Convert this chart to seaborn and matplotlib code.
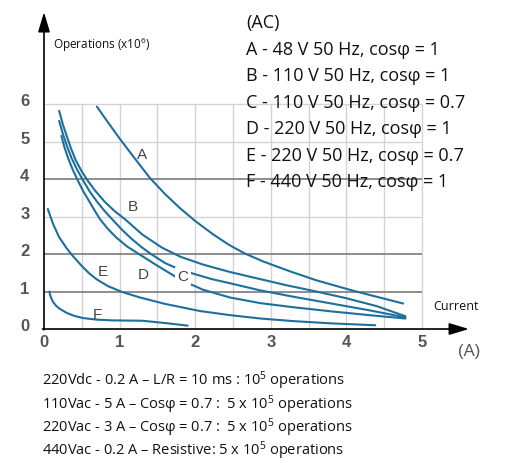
import matplotlib
matplotlib.use("Agg")
import matplotlib.pyplot as plt
import matplotlib.transforms as mtransforms
import seaborn as sns

# Electrical life curves: breaking current (A) vs. operations (x10^6)
a_current = [0.70, 0.85, 1.00, 1.20, 1.40, 1.60, 1.80, 2.00, 2.24, 2.45, 2.65, 2.90, 3.25, 3.60, 4.09, 4.40, 4.75]
a_ops     = [5.93, 5.50, 5.08, 4.55, 4.03, 3.60, 3.22, 2.88, 2.52, 2.24, 2.02, 1.80, 1.54, 1.30, 1.02, 0.86, 0.68]

b_current = [0.20, 0.25, 0.30, 0.36, 0.42, 0.50, 0.58, 0.68, 0.80, 0.93, 1.07, 1.30, 1.56, 1.80, 2.10, 2.46, 2.86, 3.20, 3.60, 4.00, 4.40, 4.78]
b_ops     = [5.82, 5.45, 5.15, 4.80, 4.50, 4.20, 3.95, 3.68, 3.40, 3.15, 2.93, 2.52, 2.17, 1.93, 1.72, 1.52, 1.33, 1.17, 1.00, 0.82, 0.61, 0.34]

c_current = [0.20, 0.25, 0.30, 0.36, 0.43, 0.52, 0.61, 0.70, 0.80, 0.90, 1.03, 1.15, 1.28, 1.40, 1.60, 1.80, 2.00, 2.22, 2.46, 2.86, 3.30, 3.80, 4.30, 4.78]
c_ops     = [5.55, 5.20, 4.90, 4.58, 4.28, 3.95, 3.65, 3.40, 3.15, 2.93, 2.65, 2.42, 2.20, 2.02, 1.76, 1.58, 1.46, 1.33, 1.22, 1.03, 0.86, 0.68, 0.50, 0.31]

d_current = [0.23, 0.27, 0.32, 0.38, 0.45, 0.52, 0.60, 0.67, 0.74, 0.84, 0.95, 1.10, 1.27, 1.49, 1.80, 2.10, 2.46, 2.86, 3.30, 3.80, 4.30, 4.78]
d_ops     = [5.15, 4.85, 4.55, 4.25, 3.95, 3.67, 3.40, 3.16, 2.93, 2.68, 2.45, 2.20, 1.98, 1.70, 1.32, 1.05, 0.84, 0.69, 0.58, 0.47, 0.37, 0.28]

e_current = [0.05, 0.12, 0.20, 0.30, 0.38, 0.50, 0.60, 0.70, 0.85, 1.03, 1.27, 1.60, 2.06, 2.46, 2.86, 3.30, 3.80, 4.38]
e_ops     = [3.20, 2.80, 2.45, 2.15, 1.95, 1.68, 1.48, 1.32, 1.14, 0.99, 0.84, 0.67, 0.48, 0.37, 0.28, 0.21, 0.15, 0.10]

f_current = [0.07, 0.09, 0.12, 0.16, 0.20, 0.30, 0.40, 0.52, 0.70, 0.90, 1.30, 1.60, 1.90]
f_ops     = [1.00, 0.85, 0.72, 0.62, 0.55, 0.43, 0.35, 0.29, 0.25, 0.23, 0.22, 0.16, 0.09]

curve_names = ["A", "B", "C", "D", "E", "F"]
curve_label_x = [1.30, 1.18, 1.84, 1.31, 0.78, 0.71]
curve_label_y = [4.67, 3.28, 1.41, 1.47, 1.55, 0.40]

legend_title = "(AC)"
legend_lines = [
    "A - 48 V 50 Hz, cosφ = 1",
    "B - 110 V 50 Hz, cosφ = 1",
    "C - 110 V 50 Hz, cosφ = 0.7",
    "D - 220 V 50 Hz, cosφ = 1",
    "E - 220 V 50 Hz, cosφ = 0.7",
    "F - 440 V 50 Hz, cosφ = 1",
]
notes = [
    "220Vdc - 0.2 A – L/R = 10 ms : 10$^5$ operations",
    "110Vac - 5 A – Cosφ = 0.7 :  5 x 10$^5$ operations",
    "220Vac - 3 A – Cosφ = 0.7 :  5 x 10$^5$ operations",
    "440Vac - 0.2 A – Resistive: 5 x 10$^5$ operations",
]
x_ticks = [0, 1, 2, 3, 4, 5]
y_ticks = [0, 1, 2, 3, 4, 5, 6]
minor_x = [0.5, 1.0, 1.5, 2.0, 2.5, 3.0, 3.5, 4.0, 4.5, 5.0]
major_y_lines = [1, 2, 4]
minor_y_lines = [3, 5, 6]

sns.set_theme(style="white")
plt.rcParams["font.family"] = ["Open Sans", "DejaVu Sans"]
plt.rcParams["mathtext.fontset"] = "custom"
plt.rcParams["mathtext.rm"] = "Open Sans"
plt.rcParams["mathtext.it"] = "Open Sans"
plt.rcParams["mathtext.bf"] = "Open Sans"

W, H = 510, 464
fig = plt.figure(figsize=(W / 100, H / 100), dpi=100)
fig.patch.set_facecolor("white")
ax = fig.add_axes([0.07145, 0.2807, 0.85986, 0.69504])
ax.set_xlim(-0.1, 5.7)
ax.set_ylim(-0.1, 8.5)
for s in ax.spines.values():
    s.set_visible(False)
ax.set_facecolor("none")

# grid
ax.vlines(minor_x, 0, 6, colors="#d4d4d4", lw=1.0, zorder=1)
ax.hlines(minor_y_lines, 0, 5, colors="#d4d4d4", lw=1.0, zorder=1)
ax.hlines(major_y_lines, 0, 5, colors="#7a7a7a", lw=1.2, zorder=1.5)

CURVE = "#1d6f9e"
series = [(a_current, a_ops), (b_current, b_ops), (c_current, c_ops),
          (d_current, d_ops), (e_current, e_ops), (f_current, f_ops)]
for xs, ys in series:
    sns.lineplot(x=xs, y=ys, ax=ax, color=CURVE, lw=1.5, sort=False,
                 estimator=None, zorder=3)

for name, lx, ly in zip(curve_names, curve_label_x, curve_label_y):
    ax.text(lx, ly, name, fontsize=11, color="#444444", ha="center", va="center",
            family="Liberation Sans", zorder=4,
            bbox=dict(boxstyle="square,pad=0.15", fc="white", ec="none") if name == "C" else None)

# axes with arrow heads
arrow = dict(arrowstyle="-|>,head_length=0.6,head_width=0.18", color="black",
             lw=1.2, mutation_scale=20, shrinkA=0, shrinkB=0)
ax.annotate("", xy=(0, 8.45), xytext=(0, -0.02), arrowprops=arrow, zorder=5)
ax.annotate("", xy=(5.62, 0), xytext=(-0.02, 0), arrowprops=arrow, zorder=5)

ax.set_xticks(x_ticks)
ax.set_yticks(y_ticks)
ax.set_xticklabels([str(v) for v in x_ticks])
ax.set_yticklabels([str(v) for v in y_ticks])
ax.tick_params(axis="both", length=0, labelsize=12, labelcolor="#555555")
ax.tick_params(axis="x", pad=1)
ax.tick_params(axis="y", pad=5)
for lbl in ax.get_xticklabels() + ax.get_yticklabels():
    lbl.set_fontfamily("Liberation Sans")
    lbl.set_fontweight("bold")
shift = mtransforms.ScaledTranslation(0, 5 / 100, fig.dpi_scale_trans)
for lbl in ax.get_yticklabels():
    lbl.set_transform(lbl.get_transform() + shift)

def fig_text(px, py, s, **kw):
    fig.text(px / W, 1 - py / H, s, **kw)

fig_text(53, 45, "Operations (x10$^6$)", fontsize=8.5, color="#111111", va="center")
fig_text(433, 307, "Current", fontsize=9, color="#111111", va="center")
fig_text(458, 352, "(A)", fontsize=12, color="#555555", va="center", family="Liberation Sans")

fig_text(246, 23, legend_title, fontsize=13, color="#111111", va="center")
for i, line in enumerate(legend_lines):
    fig_text(246, 50 + i * 26.4, line, fontsize=13, color="#111111", va="center")

for i, line in enumerate(notes):
    fig_text(42, 381 + i * 23.3, line, fontsize=10.5, color="#111111", va="center")

fig.savefig("out.png", dpi=100)
